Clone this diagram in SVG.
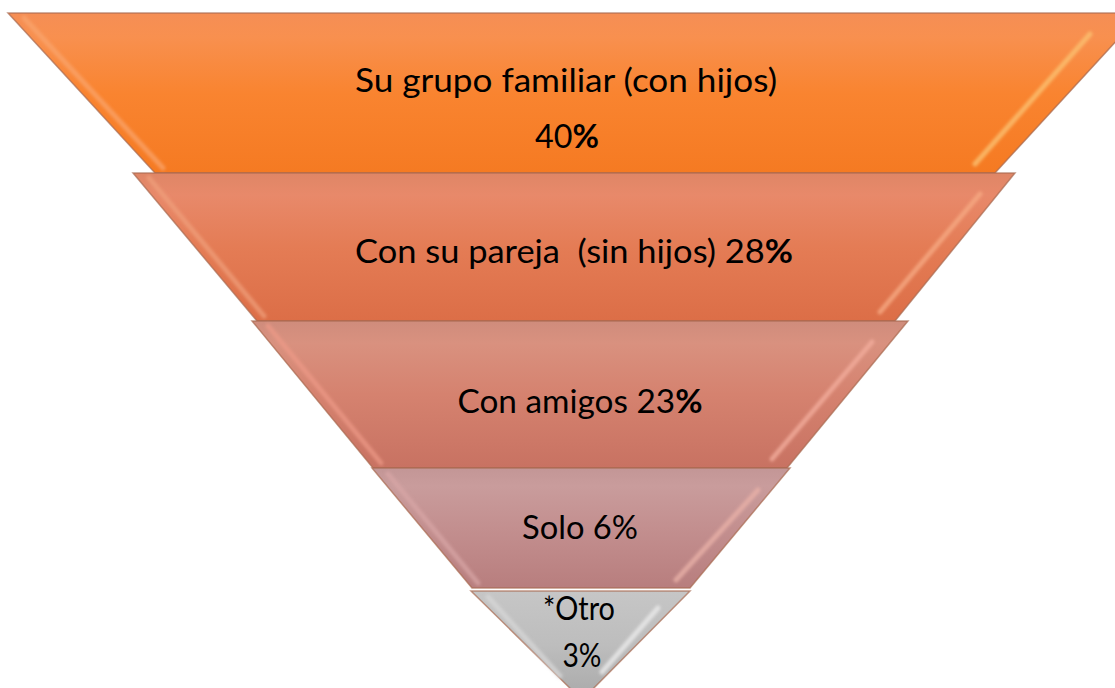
<svg xmlns="http://www.w3.org/2000/svg" width="1115" height="688" viewBox="0 0 1115 688">
<style>
.edge{stroke:#a86a50;stroke-opacity:0.7;stroke-width:1.5;stroke-linejoin:miter}
.hl{fill:none;stroke-width:5;stroke-linecap:round;filter:url(#blur)}
.lbl{font-family:Lato,"Liberation Sans",sans-serif;font-size:32px;fill:#000;text-anchor:middle;white-space:pre}
.b{font-weight:bold}
</style>
<defs>
<filter id="blur" x="-20%" y="-20%" width="140%" height="140%"><feGaussianBlur stdDeviation="1.8"/></filter>
<linearGradient id="g1" x1="0" y1="0" x2="0" y2="1"><stop offset="0" stop-color="#f58e55"/><stop offset="0.15" stop-color="#f8904f"/><stop offset="0.5" stop-color="#f98430"/><stop offset="1" stop-color="#f57a22"/></linearGradient>
<linearGradient id="g2" x1="0" y1="0" x2="0" y2="1"><stop offset="0" stop-color="#df8666"/><stop offset="0.15" stop-color="#e8896a"/><stop offset="0.5" stop-color="#e47c55"/><stop offset="1" stop-color="#dc6e47"/></linearGradient>
<linearGradient id="g3" x1="0" y1="0" x2="0" y2="1"><stop offset="0" stop-color="#cf8c7c"/><stop offset="0.15" stop-color="#d9917f"/><stop offset="0.5" stop-color="#d5826f"/><stop offset="1" stop-color="#c87262"/></linearGradient>
<linearGradient id="g4" x1="0" y1="0" x2="0" y2="1"><stop offset="0" stop-color="#c39696"/><stop offset="0.15" stop-color="#c99c9c"/><stop offset="0.5" stop-color="#c38f8f"/><stop offset="1" stop-color="#b87e7e"/></linearGradient>
<linearGradient id="g5" x1="0" y1="0" x2="0" y2="1"><stop offset="0" stop-color="#c6c6c6"/><stop offset="0.5" stop-color="#bdbdbd"/><stop offset="1" stop-color="#a9a9a9"/></linearGradient>
</defs>
<rect width="1115" height="688" fill="#fff"/>

<g id="layer1">
<polygon class="edge" points="8,13 1142,13 995,173 155,173" fill="url(#g1)"/>
<line class="hl" x1="24" y1="18" x2="163" y2="168" stroke="#f9a56e" stroke-opacity="0.7"/>
<line class="hl" x1="1090" y1="34" x2="975" y2="164" stroke="#fbc070" stroke-opacity="0.8"/>
<text class="lbl" x="566" y="92" textLength="422" lengthAdjust="spacingAndGlyphs">Su grupo familiar (con hijos)</text>
<text class="lbl" x="567" y="148" textLength="64" lengthAdjust="spacingAndGlyphs">40<tspan class="b">%</tspan></text>
</g>

<g id="layer2">
<polygon class="edge" points="133,173 1015,173 895,321 257,321" fill="url(#g2)"/>
<line class="hl" x1="149" y1="178" x2="264" y2="316" stroke="#f0a07c" stroke-opacity="0.7"/>
<line class="hl" x1="980" y1="194" x2="880" y2="312" stroke="#f6a982" stroke-opacity="0.8"/>
<text class="lbl" x="574" y="263" textLength="438" lengthAdjust="spacingAndGlyphs">Con su pareja  (sin hijos) 28<tspan class="b">%</tspan></text>
</g>

<g id="layer3">
<polygon class="edge" points="252,321 908,321 787,468 373,468" fill="url(#g3)"/>
<line class="hl" x1="268" y1="326" x2="381" y2="463" stroke="#ee9a88" stroke-opacity="0.7"/>
<line class="hl" x1="872" y1="342" x2="772" y2="459" stroke="#f2ad9c" stroke-opacity="0.8"/>
<text class="lbl" x="580" y="413" textLength="245" lengthAdjust="spacingAndGlyphs">Con amigos 23<tspan class="b">%</tspan></text>
</g>

<g id="layer4">
<polygon class="edge" points="372,468 790,468 690,588 472,588" fill="url(#g4)"/>
<line class="hl" x1="388" y1="474" x2="478" y2="583" stroke="#d9a6a6" stroke-opacity="0.7"/>
<line class="hl" x1="758" y1="490" x2="676" y2="580" stroke="#e8b0a8" stroke-opacity="0.8"/>
<text class="lbl" x="580" y="539" textLength="116" lengthAdjust="spacingAndGlyphs">Solo 6%</text>
</g>

<g id="layer5">
<polygon class="edge" points="471,591 690,591 582,700" fill="url(#g5)" stroke="#8f8f8f"/>
<line class="hl" x1="488" y1="597" x2="560" y2="676" stroke="#d6d6d6" stroke-opacity="0.8"/>
<line class="hl" x1="658" y1="608" x2="602" y2="672" stroke="#e6e6e6" stroke-opacity="0.9"/>
<text class="lbl" x="579" y="620" textLength="72" lengthAdjust="spacingAndGlyphs">*Otro</text>
<text class="lbl" x="582" y="667" textLength="39" lengthAdjust="spacingAndGlyphs">3%</text>
</g>

<g id="connectors"></g>
</svg>
